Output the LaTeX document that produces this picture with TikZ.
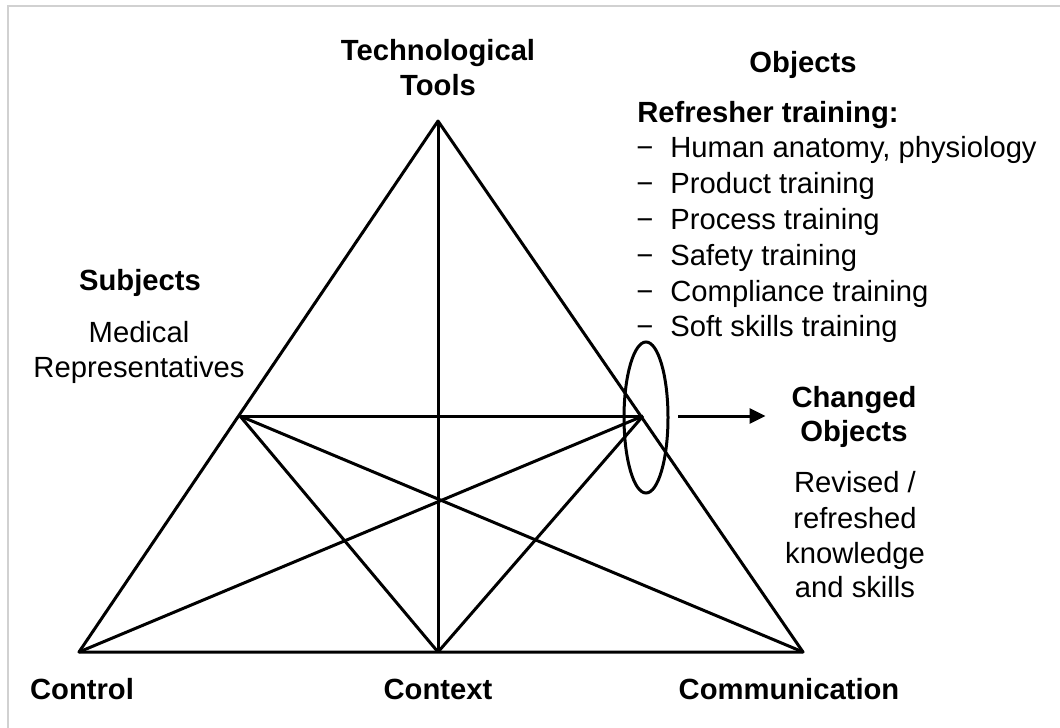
\documentclass[tikz,border=0pt]{standalone}
\usepackage{fontspec}
\setmainfont{Liberation Sans}
\usetikzlibrary{arrows.meta,shapes.geometric}
\begin{document}
\begin{tikzpicture}[x=0.5pt,y=-0.5pt,
  edge/.style={line width=1.5pt,line join=round},
  lbl/.style={inner sep=0pt,anchor=base,font=\fontsize{14.6}{17}\selectfont},
  blbl/.style={lbl,font=\fontsize{14.6}{17}\selectfont\bfseries},
  item/.style={lbl,anchor=base west}]
\useasboundingbox (0,0) rectangle (1060,728);
\draw[line width=1pt,color=black!18] (8,728) -- (8,6) -- (1060,6);
% vertices
\coordinate (T) at (438,121);
\coordinate (L) at (79,652);
\coordinate (C) at (438,652);
\coordinate (R) at (803,652);
\coordinate (S) at (240,416);
\coordinate (O) at (643,416);
% triangle and inner lines
\draw[edge] (T) -- (L) -- (R) -- cycle;
\draw[edge] (T) -- (C);
\draw[edge] (S) -- (O);
\draw[edge] (S) -- (C);
\draw[edge] (S) -- (R);
\draw[edge] (L) -- (O);
\draw[edge] (C) -- (O);
% ellipse and arrow
\node[draw,line width=1.5pt,ellipse,inner sep=0pt,minimum width=22pt,minimum height=75.5pt] (ell) at (646,417.5) {};
\node[inner sep=0pt] (a1) at (677,416) {};
\node[inner sep=0pt] (a2) at (767,416) {};
\draw[edge,-{Triangle[length=8pt,width=7.5pt]}] (a1) -- (a2);
% labels
\node[blbl] (tt1) at (438,61) {Technological};
\node[blbl] (tt2) at (438,95) {Tools};
\node[blbl] (ob) at (803,72) {Objects};
\node[blbl,anchor=base west] (rt) at (637,122) {Refresher training:};
\node[item] (i1) at (636,157) {\makebox[17pt][l]{−}Human anatomy, physiology};
\node[item] (i2) at (636,193) {\makebox[17pt][l]{−}Product training};
\node[item] (i3) at (636,229) {\makebox[17pt][l]{−}Process training};
\node[item] (i4) at (636,265) {\makebox[17pt][l]{−}Safety training};
\node[item] (i5) at (636,301) {\makebox[17pt][l]{−}Compliance training};
\node[item] (i6) at (636,336) {\makebox[17pt][l]{−}Soft skills training};
\node[blbl] (su) at (140,290) {Subjects};
\node[lbl] (m1) at (139,342) {Medical};
\node[lbl] (m2) at (139,377) {Representatives};
\node[blbl] (co1) at (854,407) {Changed};
\node[blbl] (co2) at (854,441) {Objects};
\node[lbl] (r1) at (855,492) {Revised /};
\node[lbl] (r2) at (855,528) {refreshed};
\node[lbl] (r3) at (855,563) {knowledge};
\node[lbl] (r4) at (855,597) {and skills};
\node[blbl] (ctl) at (82,699) {Control};
\node[blbl] (ctx) at (438,699) {Context};
\node[blbl] (com) at (789,699) {Communication};
\end{tikzpicture}
\end{document}
